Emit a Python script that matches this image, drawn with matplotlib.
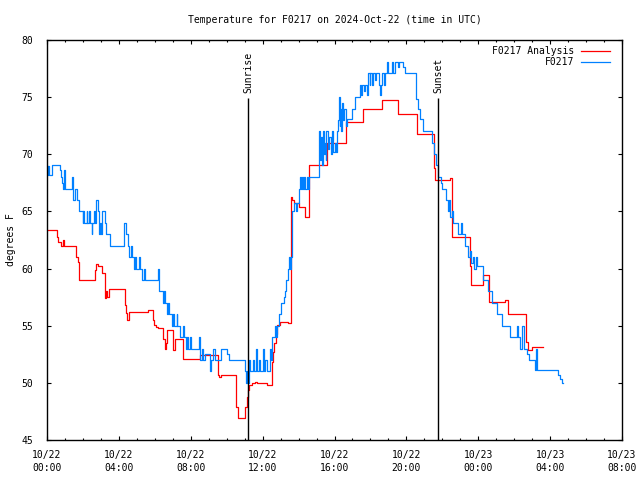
import matplotlib
matplotlib.use("Agg")
import matplotlib.pyplot as plt
import matplotlib.dates as mdates
from matplotlib.lines import Line2D
import pandas as pd

# --- data: hours after 2024-10-22 00:00 UTC and temperature in F ---
analysis_hours = [0.00, 0.54, 0.63, 0.76, 0.90, 0.95, 1.61, 1.70, 1.76, 1.80,
                  2.67, 2.75, 2.86, 3.04, 3.23, 3.28, 3.36, 3.45, 4.34, 4.40,
                  4.47, 4.55, 5.64, 5.92, 5.98, 6.05, 6.20, 6.44, 6.55, 6.62,
                  6.68, 7.03, 7.12, 7.59, 7.68, 8.51, 9.50, 9.58, 9.66, 10.52,
                  10.62, 11.02, 11.11, 11.20, 11.26, 11.40, 11.60, 11.70, 12.22, 12.50,
                  12.55, 12.62, 12.72, 12.80, 12.97, 13.43, 13.56, 13.65, 13.75, 14.00,
                  14.36, 14.60, 15.56, 16.62, 17.60, 18.62, 19.55, 20.57, 21.52, 21.60,
                  22.45, 22.55, 23.54, 23.62, 24.25, 24.61, 25.49, 25.64, 26.66, 26.79,
                  26.97, 27.62]
analysis_temp = [63.4, 62.8, 62.3, 62.0, 62.5, 62.0, 61.0, 60.6, 59.7, 59.0,
                 59.9, 60.4, 60.2, 59.6, 57.4, 58.0, 57.5, 58.2, 56.8, 56.1,
                 55.5, 56.2, 56.4, 55.5, 55.1, 54.9, 54.8, 53.8, 53.0, 53.5,
                 54.6, 52.9, 53.8, 52.1, 52.06, 52.4, 50.7, 50.5, 50.7, 47.9,
                 46.9, 47.9, 48.8, 49.4, 49.8, 50.0, 50.1, 50.0, 49.8, 51.85,
                 52.7, 53.5, 54.3, 55.06, 55.35, 55.2, 66.3, 66.0, 65.7, 65.4,
                 64.5, 69.1, 71.0, 72.8, 73.95, 74.75, 73.5, 71.8, 68.8, 67.75,
                 67.9, 62.8, 60.2, 58.56, 59.4, 57.05, 57.25, 56.0, 53.6, 52.9,
                 53.17, 53.17]

obs_hours = [0.00, 0.04, 0.08, 0.12, 0.30, 0.72, 0.76, 0.84, 0.90, 0.96,
             1.00, 1.38, 1.42, 1.47, 1.58, 1.66, 1.76, 1.98, 2.03, 2.08,
             2.20, 2.24, 2.36, 2.41, 2.48, 2.53, 2.60, 2.66, 2.72, 2.86,
             2.92, 2.97, 3.02, 3.07, 3.20, 3.27, 3.50, 4.30, 4.40, 4.50,
             4.58, 4.66, 4.72, 4.82, 4.90, 4.96, 5.10, 5.16, 5.30, 5.40,
             5.46, 6.18, 6.25, 6.45, 6.52, 6.58, 6.66, 6.72, 6.78, 6.94,
             7.00, 7.06, 7.22, 7.26, 7.40, 7.55, 7.60, 7.72, 7.78, 7.82,
             7.96, 8.02, 8.46, 8.50, 8.62, 8.68, 8.78, 9.06, 9.15, 9.25,
             9.35, 9.53, 9.70, 10.04, 10.12, 11.00, 11.05, 11.12, 11.18, 11.25,
             11.30, 11.48, 11.52, 11.65, 11.70, 11.80, 11.85, 12.00, 12.06, 12.15,
             12.22, 12.40, 12.45, 12.52, 12.68, 12.72, 12.80, 12.90, 13.05, 13.20,
             13.25, 13.32, 13.40, 13.45, 13.50, 13.56, 13.62, 13.66, 13.72, 13.86,
             13.90, 14.05, 14.10, 14.14, 14.20, 14.26, 14.33, 14.38, 14.45, 14.50,
             14.56, 15.15, 15.20, 15.25, 15.30, 15.35, 15.40, 15.45, 15.50, 15.55,
             15.62, 15.70, 15.78, 15.85, 15.90, 16.00, 16.10, 16.15, 16.20, 16.25,
             16.28, 16.33, 16.38, 16.44, 16.50, 16.55, 16.62, 16.68, 16.95, 17.14,
             17.42, 17.48, 17.55, 17.62, 17.70, 17.79, 17.88, 17.95, 18.00, 18.10,
             18.15, 18.25, 18.32, 18.45, 18.53, 18.58, 18.65, 18.75, 18.82, 18.90,
             18.96, 19.20, 19.25, 19.37, 19.55, 19.60, 19.83, 19.90, 20.55, 20.62,
             20.76, 20.94, 21.45, 21.55, 21.65, 21.75, 21.90, 22.00, 22.20, 22.30,
             22.35, 22.42, 22.52, 22.60, 22.90, 23.05, 23.10, 23.26, 23.45, 23.55,
             23.60, 23.70, 23.78, 23.85, 23.95, 24.25, 24.56, 24.75, 25.03, 25.30,
             25.77, 26.14, 26.20, 26.32, 26.45, 26.52, 26.69, 26.80, 27.16, 27.22,
             27.25, 28.45, 28.55, 28.65, 28.73]
obs_temp = [69.0, 68.2, 69.0, 68.2, 69.1, 68.6, 68.0, 67.5, 67.0, 68.6,
            67.0, 68.0, 67.0, 66.0, 67.0, 66.0, 65.0, 64.0, 65.0, 64.0,
            65.0, 64.0, 65.0, 64.0, 63.0, 64.0, 65.0, 64.0, 66.0, 65.0,
            63.0, 64.0, 63.0, 65.0, 64.0, 63.0, 62.0, 64.0, 63.0, 62.0,
            61.0, 62.0, 61.0, 60.0, 61.0, 60.0, 61.0, 60.0, 59.0, 60.0,
            59.0, 60.0, 58.0, 57.0, 58.0, 57.0, 56.0, 57.0, 56.0, 55.0,
            56.0, 55.0, 56.0, 55.0, 54.0, 55.0, 54.0, 53.0, 54.0, 53.0,
            54.0, 53.0, 54.0, 52.0, 53.0, 52.0, 52.5, 51.0, 52.0, 53.0,
            52.0, 52.0, 53.0, 52.5, 52.0, 51.0, 50.0, 51.0, 50.0, 52.0,
            51.0, 52.0, 51.0, 53.0, 51.0, 52.0, 51.0, 53.0, 51.0, 52.0,
            51.0, 53.0, 52.0, 54.0, 55.0, 54.0, 55.0, 56.0, 57.0, 57.5,
            58.0, 59.0, 60.0, 61.0, 60.0, 61.0, 64.0, 65.0, 65.7, 65.0,
            65.7, 67.0, 68.0, 67.0, 68.0, 67.0, 68.0, 67.0, 68.0, 67.0,
            68.0, 72.0, 69.5, 71.5, 69.1, 72.0, 70.0, 71.0, 69.5, 72.0,
            70.5, 71.5, 70.0, 72.0, 70.2, 71.0, 70.2, 72.0, 73.0, 75.0,
            72.5, 74.0, 72.0, 74.5, 73.0, 74.0, 72.5, 73.1, 74.0, 75.0,
            76.1, 75.2, 76.1, 75.5, 76.1, 75.2, 77.1, 76.1, 77.1, 76.1,
            77.1, 76.5, 77.1, 76.1, 75.2, 76.1, 77.1, 76.1, 77.1, 78.1,
            77.1, 78.1, 77.1, 78.1, 77.6, 78.1, 77.6, 77.1, 74.8, 74.0,
            73.1, 72.0, 71.0, 70.0, 69.1, 68.0, 67.5, 67.0, 66.0, 65.0,
            66.0, 64.5, 65.0, 64.0, 63.0, 64.0, 63.0, 62.0, 61.0, 61.5,
            60.5, 61.0, 60.0, 61.0, 60.2, 59.0, 58.0, 57.0, 56.0, 55.0,
            54.0, 55.0, 54.0, 53.0, 55.0, 53.0, 52.5, 52.0, 51.1, 53.0,
            51.1, 50.7, 50.3, 50.0, 50.0]

sunrise_hour = 11.2
sunset_hour = 21.78
station = "F0217"

base = pd.Timestamp("2024-10-22 00:00")


def to_time(hours):
    return [base + pd.Timedelta(hours=h) for h in hours]


plt.rcParams['font.family'] = ['DejaVu Sans Mono']
plt.rcParams['font.size'] = 7

fig = plt.figure(figsize=(6.4, 4.8), dpi=100)
ax = fig.add_axes([47 / 640, 40 / 480, 575 / 640, 400 / 480])

red = '#ff0000'
blue = '#0080ff'

ax.plot(to_time(analysis_hours), analysis_temp, color=red, lw=0.9,
        drawstyle='steps-post')
ax.plot(to_time(obs_hours), obs_temp, color=blue, lw=0.9,
        drawstyle='steps-post')

# sunrise / sunset markers
for h, name in [(sunrise_hour, "Sunrise"), (sunset_hour, "Sunset")]:
    t = base + pd.Timedelta(hours=h)
    ax.vlines(t, 45, 74.9, color='black', lw=1.0)
    ax.text(t, 75.4, name, rotation=90, ha='center', va='bottom', fontsize=7)

ax.set_xlim(base, base + pd.Timedelta(hours=32))
ax.set_ylim(45, 80)
ax.set_yticks(range(45, 81, 5))

ax.xaxis.set_major_locator(mdates.HourLocator(byhour=[0, 4, 8, 12, 16, 20]))
ax.xaxis.set_minor_locator(mdates.HourLocator())
ax.xaxis.set_major_formatter(mdates.DateFormatter('%m/%d\n%H:%M'))

ax.tick_params(which='both', direction='in', top=True, right=True,
               width=0.8, color='black')
ax.tick_params(which='major', length=3)
ax.tick_params(which='minor', length=1.5)
ax.tick_params(axis='y', which='major', pad=10)
ax.tick_params(axis='x', which='major', pad=7)
for lbl in ax.get_xticklabels():
    lbl.set_linespacing(1.35)
for sp in ax.spines.values():
    sp.set_linewidth(1.0)

ax.set_ylabel("degrees F")
ax.yaxis.set_label_coords(-0.054, 0.5)
ax.text(0.5, 1 + 20 / 400, f"Temperature for {station} on 2024-Oct-22 (time in UTC)",
        transform=ax.transAxes, ha='center', va='center', fontsize=7)

# gnuplot style key, text right-aligned before the sample line
key = [(f"{station} Analysis", red, 0.973), (station, blue, 0.944)]
for label, col, yk in key:
    ax.text(0.9165, yk, label, transform=ax.transAxes, ha='right', va='center')
    ax.add_line(Line2D([0.9287, 0.9791], [yk, yk], transform=ax.transAxes,
                       color=col, lw=0.9))

fig.savefig("out.png", dpi=100)
